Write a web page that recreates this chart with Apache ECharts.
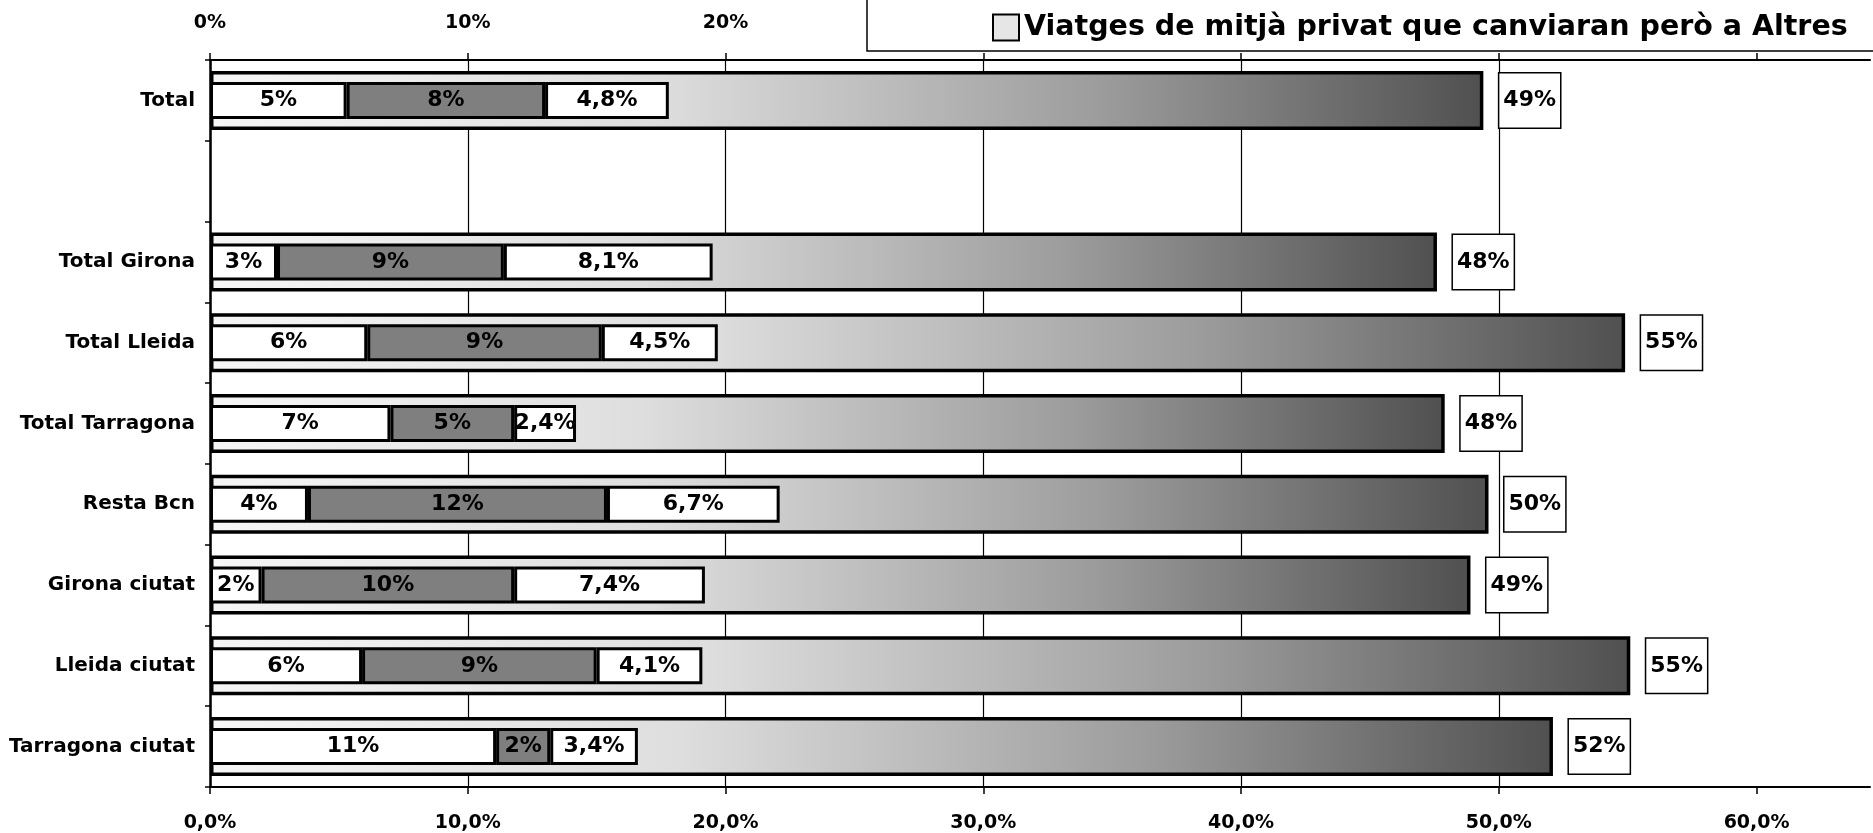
<!DOCTYPE html>
<html>
<head>
<meta charset="utf-8">
<script src="https://cdn.jsdelivr.net/npm/echarts@6/dist/echarts.min.js"></script>
<style>
  html, body { margin: 0; padding: 0; background: #fff; }
  #chart { width: 1873px; height: 833px; }
</style>
</head>
<body>
<div id="chart"></div>
<script>
// categories (the empty one is the blank row under "Total")
const categories = ['Total', '', 'Total Girona', 'Total Lleida', 'Total Tarragona',
  'Resta Bcn', 'Girona ciutat', 'Lleida ciutat', 'Tarragona ciutat'];

// big gradient bar, bottom axis
const totalPrivat = [49.4, '-', 47.6, 54.9, 47.9, 49.6, 48.9, 55.1, 52.1];

// stacked segments, top axis
const seg1 = [5.3, '-', 2.6, 6.1, 7.0, 3.8, 2.0, 5.9, 11.1];
const seg2 = [7.7, '-', 8.8, 9.1, 4.8, 11.6, 9.8, 9.1, 2.1];
const seg3 = [4.8, '-', 8.1, 4.5, 2.4, 6.7, 7.4, 4.1, 3.4];

// x ticks
const xTicks = [0, 10, 20, 30, 40, 50, 60];

const seg3Name = 'Viatges de mitjà privat que canviaran però a Altres';

const FONT = 'DejaVu Sans';

const chart = echarts.init(document.getElementById('chart'));

const pctInt = p => Math.round(p.value) + '%';
const pctDec = p => p.value.toFixed(1).replace('.', ',') + '%';

const segLabel = (fmt) => ({
    show: true,
    position: 'inside',
    color: '#000',
    fontFamily: FONT,
    fontWeight: 'bold',
    fontSize: 22,
    formatter: fmt
});

const option = {
    backgroundColor: '#fff',
    animation: false,
    legend: {
        data: [seg3Name],
        left: 867,
        top: -20,
        padding: [33, 300, 9, 125],
        backgroundColor: '#fff',
        borderColor: '#000',
        borderWidth: 1.5,
        itemWidth: 26,
        itemHeight: 26,
        icon: 'rect',
        itemStyle: { color: '#e6e6e6', borderColor: '#000', borderWidth: 2 },
        textStyle: { fontFamily: FONT, fontWeight: 'bold', fontSize: 28.5, color: '#000' },
        z: 10
    },
    grid: {
        left: 210,
        top: 60,
        width: 1660,
        height: 727
    },
    xAxis: [
        {
            type: 'value',
            position: 'bottom',
            min: 0,
            max: 64.4,
            interval: 10,
            axisLine: { show: true, lineStyle: { color: '#000', width: 2 } },
            axisTick: { show: true, length: 7, customValues: xTicks, lineStyle: { color: '#000', width: 1.5 } },
            splitLine: { show: true, showMaxLine: false, lineStyle: { color: '#000', width: 1.2 } },
            axisLabel: {
                margin: 27,
                color: '#000',
                fontFamily: FONT,
                fontWeight: 'bold',
                fontSize: 19,
                formatter: v => (v % 10 === 0 ? v.toFixed(1).replace('.', ',') + '%' : '')
            }
        },
        {
            type: 'value',
            position: 'top',
            min: 0,
            max: 64.4,
            interval: 10,
            axisLine: { show: true, lineStyle: { color: '#000', width: 2 } },
            axisTick: { show: true, length: 7, customValues: xTicks, lineStyle: { color: '#000', width: 1.5 } },
            splitLine: { show: false },
            axisLabel: {
                margin: 27,
                color: '#000',
                fontFamily: FONT,
                fontWeight: 'bold',
                fontSize: 19,
                formatter: v => (v % 10 === 0 ? v + '%' : '')
            }
        }
    ],
    yAxis: [
        {
            type: 'category',
            inverse: true,
            data: categories,
            axisLine: { show: true, lineStyle: { color: '#000', width: 2.5 } },
            axisTick: { show: true, length: 5, lineStyle: { color: '#000', width: 1.5 } },
            axisLabel: {
                margin: 15,
                color: '#000',
                fontFamily: FONT,
                fontWeight: 'bold',
                fontSize: 20
            }
        },
        {
            type: 'category',
            inverse: true,
            data: categories,
            show: false
        }
    ],
    series: [
        {
            name: 'Viatges de mitjà privat',
            type: 'bar',
            xAxisIndex: 0,
            yAxisIndex: 0,
            barWidth: 59,
            data: totalPrivat,
            itemStyle: {
                color: new echarts.graphic.LinearGradient(0, 0, 1, 0, [
                    { offset: 0, color: '#f6f6f6' },
                    { offset: 0.35, color: '#dedede' },
                    { offset: 0.7, color: '#9c9c9c' },
                    { offset: 1, color: '#505050' }
                ]),
                borderColor: '#000',
                borderWidth: 3.5
            },
            label: {
                show: true,
                position: 'right',
                distance: 16,
                color: '#000',
                fontFamily: FONT,
                fontWeight: 'bold',
                fontSize: 22,
                backgroundColor: '#fff',
                borderColor: '#000',
                borderWidth: 1.5,
                padding: [17, 4, 15, 4],
                formatter: pctInt
            }
        },
        {
            name: 'seg1',
            type: 'bar',
            stack: 'canvi',
            xAxisIndex: 1,
            yAxisIndex: 1,
            barWidth: 37,
            data: seg1,
            itemStyle: { color: '#fff', borderColor: '#000', borderWidth: 3 },
            label: segLabel(pctInt)
        },
        {
            name: 'seg2',
            type: 'bar',
            stack: 'canvi',
            xAxisIndex: 1,
            yAxisIndex: 1,
            barWidth: 37,
            data: seg2,
            itemStyle: { color: '#7f7f7f', borderColor: '#000', borderWidth: 3 },
            label: segLabel(pctInt)
        },
        {
            name: seg3Name,
            type: 'bar',
            stack: 'canvi',
            xAxisIndex: 1,
            yAxisIndex: 1,
            barWidth: 37,
            data: seg3,
            itemStyle: { color: '#fff', borderColor: '#000', borderWidth: 3 },
            label: segLabel(pctDec)
        }
    ]
};

chart.setOption(option);
</script>
</body>
</html>
